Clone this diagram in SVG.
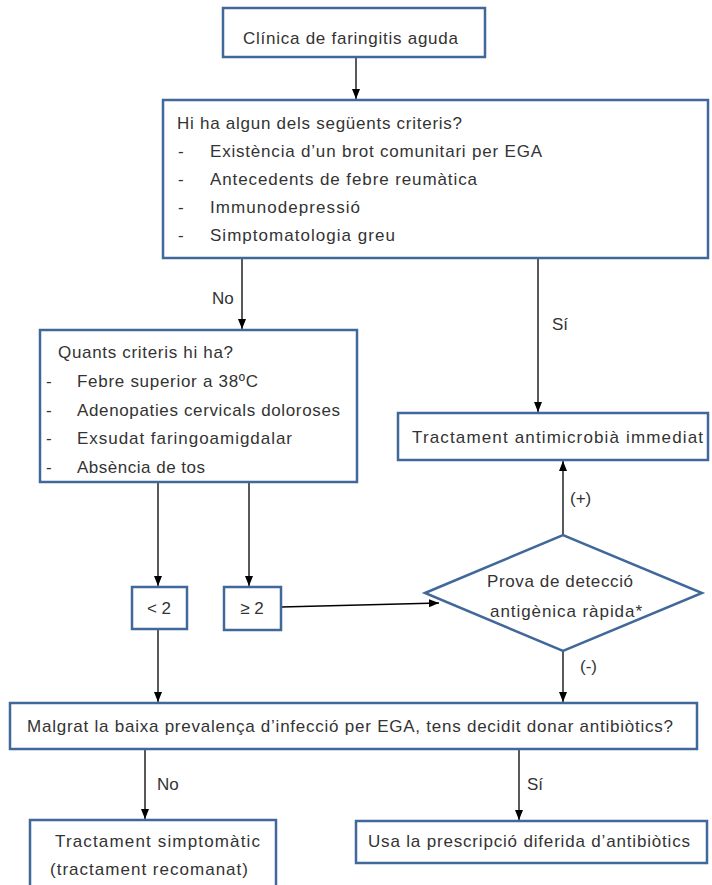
<svg xmlns="http://www.w3.org/2000/svg" width="712" height="885" viewBox="0 0 712 885">
<style>
.box{fill:#fff;stroke:#41689a;stroke-width:2.5}
.t{font-family:"Liberation Sans",Arial,sans-serif;font-size:17px;fill:#333}
.c{fill:none;stroke:#000;stroke-width:1.3}
</style>
<defs>
<marker id="ah" markerUnits="userSpaceOnUse" markerWidth="10" markerHeight="10" viewBox="0 0 10 10" refX="10" refY="5" orient="auto">
<path d="M0,1 L10,5 L0,9 z" fill="#000"/>
</marker>
</defs>
<rect width="712" height="885" fill="#fff"/>
<g id="connectors">
<line class="c" x1="356" y1="57" x2="356" y2="99" marker-end="url(#ah)"/>
<line class="c" x1="242" y1="258" x2="242" y2="329" marker-end="url(#ah)"/>
<line class="c" x1="538" y1="258" x2="538" y2="412" marker-end="url(#ah)"/>
<line class="c" x1="158" y1="482" x2="158" y2="586" marker-end="url(#ah)"/>
<line class="c" x1="249" y1="482" x2="249" y2="586" marker-end="url(#ah)"/>
<line class="c" x1="281" y1="607" x2="439" y2="603" marker-end="url(#ah)"/>
<line class="c" x1="563" y1="535" x2="563" y2="461" marker-end="url(#ah)"/>
<line class="c" x1="563" y1="651" x2="563" y2="702" marker-end="url(#ah)"/>
<line class="c" x1="158" y1="629" x2="158" y2="702" marker-end="url(#ah)"/>
<line class="c" x1="145" y1="749" x2="145" y2="819" marker-end="url(#ah)"/>
<line class="c" x1="519" y1="749" x2="519" y2="820" marker-end="url(#ah)"/>
<text class="t" x="212" y="304">No</text>
<text class="t" x="552" y="330">Sí</text>
<text class="t" x="570" y="504">(+)</text>
<text class="t" x="580" y="672">(-)</text>
<text class="t" x="157" y="790">No</text>
<text class="t" x="527" y="790">Sí</text>
</g>
<g id="n1">
<rect class="box" x="223" y="8" width="262" height="49"/>
<text class="t" x="243" y="44" textLength="215">Clínica de faringitis aguda</text>
</g>
<g id="n2">
<rect class="box" x="163" y="100" width="545" height="158"/>
<text class="t" x="177" y="129" textLength="285">Hi ha algun dels següents criteris?</text>
<text class="t" x="178" y="157">-</text><text class="t" x="210" y="157" textLength="332">Existència d’un brot comunitari per EGA</text>
<text class="t" x="178" y="185">-</text><text class="t" x="210" y="185" textLength="267">Antecedents de febre reumàtica</text>
<text class="t" x="178" y="213">-</text><text class="t" x="210" y="213" textLength="150">Immunodepressió</text>
<text class="t" x="178" y="241">-</text><text class="t" x="210" y="241" textLength="185">Simptomatologia greu</text>
</g>
<g id="n3">
<rect class="box" x="40" y="330" width="317" height="152"/>
<text class="t" x="58" y="358" textLength="175">Quants criteris hi ha?</text>
<text class="t" x="46" y="387">-</text><text class="t" x="77" y="387" textLength="181">Febre superior a 38ºC</text>
<text class="t" x="46" y="416">-</text><text class="t" x="77" y="416" textLength="263">Adenopaties cervicals doloroses</text>
<text class="t" x="46" y="444">-</text><text class="t" x="77" y="444" textLength="215">Exsudat faringoamigdalar</text>
<text class="t" x="46" y="473">-</text><text class="t" x="77" y="473" textLength="128">Absència de tos</text>
</g>
<g id="n4">
<rect class="box" x="398" y="413" width="310" height="47"/>
<text class="t" x="412" y="443" textLength="291">Tractament antimicrobià immediat</text>
</g>
<g id="n5">
<polygon class="box" points="425,593 563,535 702,593 563,651"/>
<text class="t" x="487" y="587" textLength="146">Prova de detecció</text>
<text class="t" x="490" y="617" textLength="152">antigènica ràpida*</text>
</g>
<g id="n6">
<rect class="box" x="132" y="587" width="55" height="42"/>
<text class="t" x="159" y="614" text-anchor="middle">&lt; 2</text>
</g>
<g id="n7">
<rect class="box" x="224" y="587" width="57" height="43"/>
<text class="t" x="252" y="614" text-anchor="middle">≥ 2</text>
</g>
<g id="n8">
<rect class="box" x="10" y="703" width="687" height="46"/>
<text class="t" x="27" y="732" textLength="646">Malgrat la baixa prevalença d’infecció per EGA, tens decidit donar antibiòtics?</text>
</g>
<g id="n9">
<rect class="box" x="30" y="820" width="246" height="75"/>
<text class="t" x="55" y="847" textLength="205">Tractament simptomàtic</text>
<text class="t" x="50" y="875" textLength="198">(tractament recomanat)</text>
</g>
<g id="n10">
<rect class="box" x="356" y="821" width="351" height="42"/>
<text class="t" x="368" y="847" textLength="322">Usa la prescripció diferida d’antibiòtics</text>
</g>
</svg>
